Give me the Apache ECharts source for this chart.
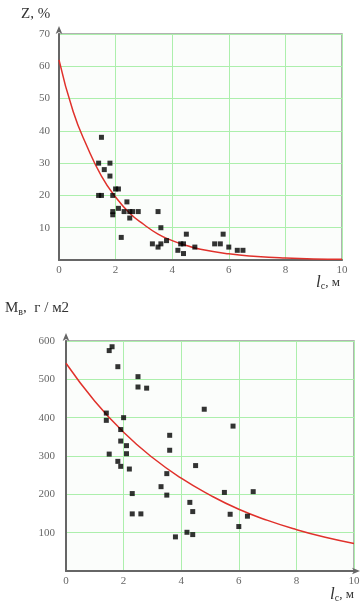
<!DOCTYPE html>
<html>
<head>
<meta charset="utf-8">
<script src="https://cdn.jsdelivr.net/npm/echarts@6/dist/echarts.min.js"></script>
<style>
  html, body { margin: 0; padding: 0; background: #ffffff; }
  #chart { width: 363px; height: 606px; }
</style>
</head>
<body>
<div id="chart"></div>
<script>
// Top panel: Z, % versus l_c, m
const zPoints = [
  [1.5, 38], [1.4, 30], [1.8, 30], [1.6, 28], [1.8, 26], [1.4, 20], [1.5, 20],
  [1.9, 20], [2.0, 22], [2.1, 22], [2.4, 18], [2.1, 16], [1.9, 15], [1.9, 14],
  [2.3, 15], [2.5, 15], [2.6, 15], [2.8, 15], [2.5, 13], [2.2, 7], [3.5, 15],
  [3.6, 10], [3.3, 5], [3.5, 4], [3.6, 5], [3.8, 6], [4.2, 3], [4.3, 5],
  [4.4, 5], [4.4, 2], [4.5, 8], [4.8, 4], [5.5, 5], [5.7, 5], [5.8, 8],
  [6.0, 4], [6.3, 3], [6.5, 3],
];
const zCurveX = [0, 0.5, 1, 1.5, 2, 2.5, 3, 3.5, 4, 4.5, 5, 6, 7, 8, 9, 10];
const zCurveY = [62, 46, 35, 26, 19.5, 14.5, 11, 8, 6, 4.5, 3.3, 1.9, 1.1, 0.6, 0.3, 0.2];

// Bottom panel: M_v, g/m2 versus l_c, m
const mPoints = [
  [1.5, 575], [1.6, 585], [1.8, 533], [2.5, 507], [2.5, 480], [2.8, 477],
  [1.4, 412], [2.0, 400], [1.4, 393], [1.9, 369], [1.9, 339], [2.1, 327],
  [1.5, 305], [2.1, 306], [1.8, 286], [1.9, 273], [2.2, 266], [2.3, 202],
  [3.6, 354], [3.6, 315], [3.5, 254], [3.3, 220], [3.5, 198], [4.8, 422],
  [5.8, 378], [4.5, 275], [5.5, 205], [6.5, 207], [4.3, 179], [4.4, 155],
  [2.3, 149], [2.6, 149], [3.8, 89], [4.2, 101], [4.4, 95], [5.7, 148],
  [6.3, 143], [6.0, 116],
];
const mCurveX = [0, 1, 2, 3, 4, 5, 6, 7, 8, 9, 10];
const mCurveY = [542, 443, 362, 296, 242, 198, 161, 132, 108, 88, 72];

const serif = "'Liberation Serif', 'DejaVu Serif', serif";
const gridLine = { show: true, lineStyle: { color: "#acefac", width: 1 } };

function xAxisFor(gridIndex, withArrow) {
  return {
    type: "value",
    gridIndex,
    min: 0,
    max: 10,
    interval: 2,
    axisLine: {
      show: true,
      lineStyle: { color: "#666", width: 2 },
      symbol: withArrow ? ["none", "arrow"] : "none",
      symbolSize: [5, 8],
      symbolOffset: [0, 6],
    },
    axisTick: { show: false },
    axisLabel: { color: "#666", fontFamily: serif, fontSize: 11, margin: 5 },
    splitLine: gridLine,
  };
}

function yAxisFor(gridIndex, max, interval, margin) {
  return {
    type: "value",
    gridIndex,
    min: 0,
    max,
    interval,
    axisLine: {
      show: true,
      lineStyle: { color: "#666", width: 2 },
      symbol: ["none", "arrow"],
      symbolSize: [5, 8],
      symbolOffset: [0, 8],
    },
    axisTick: { show: false },
    axisLabel: {
      color: "#666",
      fontFamily: serif,
      fontSize: 11,
      margin,
      showMinLabel: false,
    },
    splitLine: gridLine,
  };
}

const chart = echarts.init(document.getElementById("chart"), null, { renderer: "canvas" });
chart.setOption({
  animation: false,
  backgroundColor: "#ffffff",
  grid: [
    { left: 59, top: 34, width: 283, height: 226, show: true, borderColor: "#999", borderWidth: 1.5, backgroundColor: "#fbfdfb" },
    { left: 66, top: 341, width: 288, height: 230, show: true, borderColor: "#999", borderWidth: 1.5, backgroundColor: "#fbfdfb" },
  ],
  xAxis: [xAxisFor(0, false), xAxisFor(1, true)],
  yAxis: [yAxisFor(0, 70, 10, 9), yAxisFor(1, 600, 100, 11)],
  graphic: [
    {
      type: "text", left: 21, top: 7,
      style: { text: "Z, %", font: `15px ${serif}`, fill: "#333" },
    },
    {
      type: "text", left: 316, top: 274,
      style: {
        text: "{l|l}{s|c}{t|, м}",
        rich: {
          l: { font: `italic 17px ${serif}`, fill: "#333" },
          s: { font: `10px ${serif}`, fill: "#333", padding: [8, 0, 0, 0] },
          t: { font: `13px ${serif}`, fill: "#333" },
        },
      },
    },
    {
      type: "text", left: 5, top: 301,
      style: {
        text: "{m|M}{s|в}{t|,  г / м}{t|2}",
        rich: {
          m: { font: `15px ${serif}`, fill: "#333" },
          s: { font: `10px ${serif}`, fill: "#333", padding: [8, 0, 0, 0] },
          t: { font: `15px ${serif}`, fill: "#333" },
        },
      },
    },
    {
      type: "text", left: 330, top: 586,
      style: {
        text: "{l|l}{s|c}{t|, м}",
        rich: {
          l: { font: `italic 17px ${serif}`, fill: "#333" },
          s: { font: `10px ${serif}`, fill: "#333", padding: [8, 0, 0, 0] },
          t: { font: `13px ${serif}`, fill: "#333" },
        },
      },
    },
  ],
  series: [
    {
      type: "line",
      xAxisIndex: 0,
      yAxisIndex: 0,
      data: zCurveX.map((x, i) => [x, zCurveY[i]]),
      smooth: true,
      showSymbol: false,
      lineStyle: { color: "#e0312b", width: 1.5 },
      z: 3,
    },
    {
      type: "scatter",
      xAxisIndex: 0,
      yAxisIndex: 0,
      data: zPoints,
      symbol: "rect",
      symbolSize: 5,
      itemStyle: { color: "#000" },
      z: 4,
    },
    {
      type: "line",
      xAxisIndex: 1,
      yAxisIndex: 1,
      data: mCurveX.map((x, i) => [x, mCurveY[i]]),
      smooth: true,
      showSymbol: false,
      lineStyle: { color: "#e0312b", width: 1.5 },
      z: 3,
    },
    {
      type: "scatter",
      xAxisIndex: 1,
      yAxisIndex: 1,
      data: mPoints,
      symbol: "rect",
      symbolSize: 5,
      itemStyle: { color: "#000" },
      z: 4,
    },
  ],
});
</script>
</body>
</html>
